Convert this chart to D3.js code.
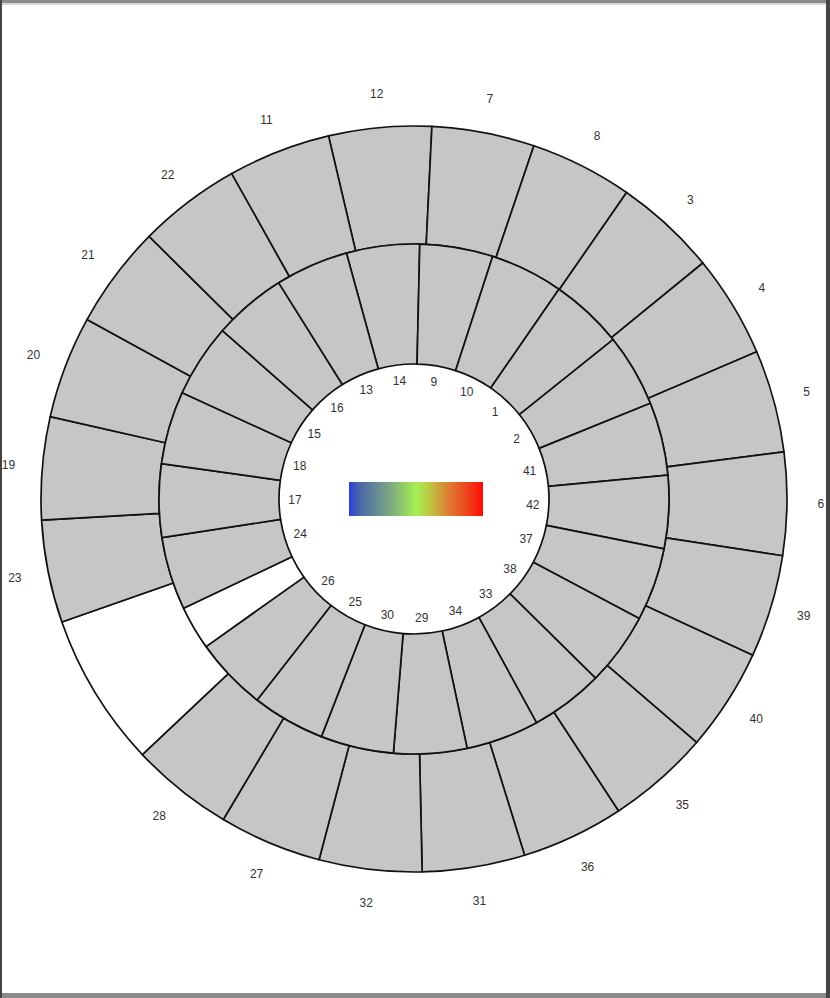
<!DOCTYPE html>
<html>
<head>
<meta charset="utf-8">
<script src="https://cdn.jsdelivr.net/npm/d3@7"></script>
<style>
  html, body { margin: 0; padding: 0; background: #fff; }
  svg { display: block; }
</style>
</head>
<body>
<div id="chart"></div>
<script>
// ring order, clockwise from the top; "" marks the empty slot
let outerIds = ["12","7","8","3","4","5","6","39","40","35","36","31","32","27","28","","23","19","20","21","22","11"]
let innerIds = ["14","9","10","1","2","41","42","37","38","33","34","29","30","25","26","","24","17","18","15","16","13"]

// width of the empty slot, in cell units
let outerGap = 1.5
let innerGap = 0.6

// where the first cell of each ring starts (degrees from top)
let outerStart = -13.25
let innerStart = -15.37

let colorStops = [
    {offset: 0,    color: "#2b3fdc"},
    {offset: 0.08, color: "#4a68a8"},
    {offset: 0.3,  color: "#7aa684"},
    {offset: 0.5,  color: "#a6ee52"},
    {offset: 0.58, color: "#b8d244"},
    {offset: 0.75, color: "#e07a32"},
    {offset: 0.9,  color: "#f03a18"},
    {offset: 1,    color: "#ff0a08"}
]

let width = 830
let height = 998
let cx = 414, cy = 499
let r0 = 135, r1 = 255, r2 = 373

let svg = d3.select('#chart')
    .append('svg')
    .attr('width', width)
    .attr('height', height)

// frame
svg.append('rect').attr('x', 0).attr('y', 0).attr('width', width).attr('height', height).attr('fill', '#444')
svg.append('rect').attr('x', 2).attr('y', 0).attr('width', width - 6).attr('height', height).attr('fill', '#8a8a8a')
svg.append('rect').attr('x', 2).attr('y', 3).attr('width', width - 6).attr('height', height - 8).attr('fill', '#d8d8d8')
svg.append('rect').attr('x', 2).attr('y', 5).attr('width', width - 6).attr('height', height - 10).attr('fill', '#fff')

let g = svg.append('g').attr('transform', "translate(" + cx + "," + cy + ")")

function layout(ids, gap, start){
    let total = ids.length - 1 + gap
    let angle = d3.scaleLinear()
        .domain([0, total])
        .range([start * Math.PI / 180, start * Math.PI / 180 + 2 * Math.PI])
    let cells = []
    let pos = 0
    ids.forEach(id => {
        let w = id === "" ? gap : 1
        cells.push({id: id, a0: angle(pos), a1: angle(pos + w)})
        pos += w
    })
    return cells
}

let rings = [
    {cells: layout(outerIds, outerGap, outerStart), inner: r1, outer: r2, labelR: 407},
    {cells: layout(innerIds, innerGap, innerStart), inner: r0, outer: r1, labelR: 119}
]

rings.forEach(ring => {
    let arc = d3.arc()
        .innerRadius(ring.inner)
        .outerRadius(ring.outer)
        .startAngle(d => d.a0)
        .endAngle(d => d.a1)

    g.append('g').selectAll('path')
        .data(ring.cells)
        .enter()
        .append('path')
        .attr('d', arc)
        .attr('fill', d => d.id === "" ? '#fff' : '#c6c6c6')
        .attr('stroke', '#111')
        .attr('stroke-width', 1.7)
        .attr('stroke-linejoin', 'round')

    g.append('g').selectAll('text')
        .data(ring.cells.filter(d => d.id !== ""))
        .enter()
        .append('text')
        .attr('x', d => ring.labelR * Math.sin((d.a0 + d.a1) / 2))
        .attr('y', d => -ring.labelR * Math.cos((d.a0 + d.a1) / 2))
        .attr('text-anchor', 'middle')
        .attr('dominant-baseline', 'central')
        .attr('font-family', 'Liberation Sans, Arial, sans-serif')
        .attr('font-size', 12)
        .attr('fill', '#333')
        .text(d => d.id)
})

// colour bar in the middle
let grad = svg.append('defs').append('linearGradient').attr('id', 'cbar')
grad.selectAll('stop')
    .data(colorStops)
    .enter()
    .append('stop')
    .attr('offset', d => d.offset)
    .attr('stop-color', d => d.color)

g.append('rect')
    .attr('x', -65)
    .attr('y', -17)
    .attr('width', 134)
    .attr('height', 34)
    .attr('fill', 'url(#cbar)')
</script>
</body>
</html>
